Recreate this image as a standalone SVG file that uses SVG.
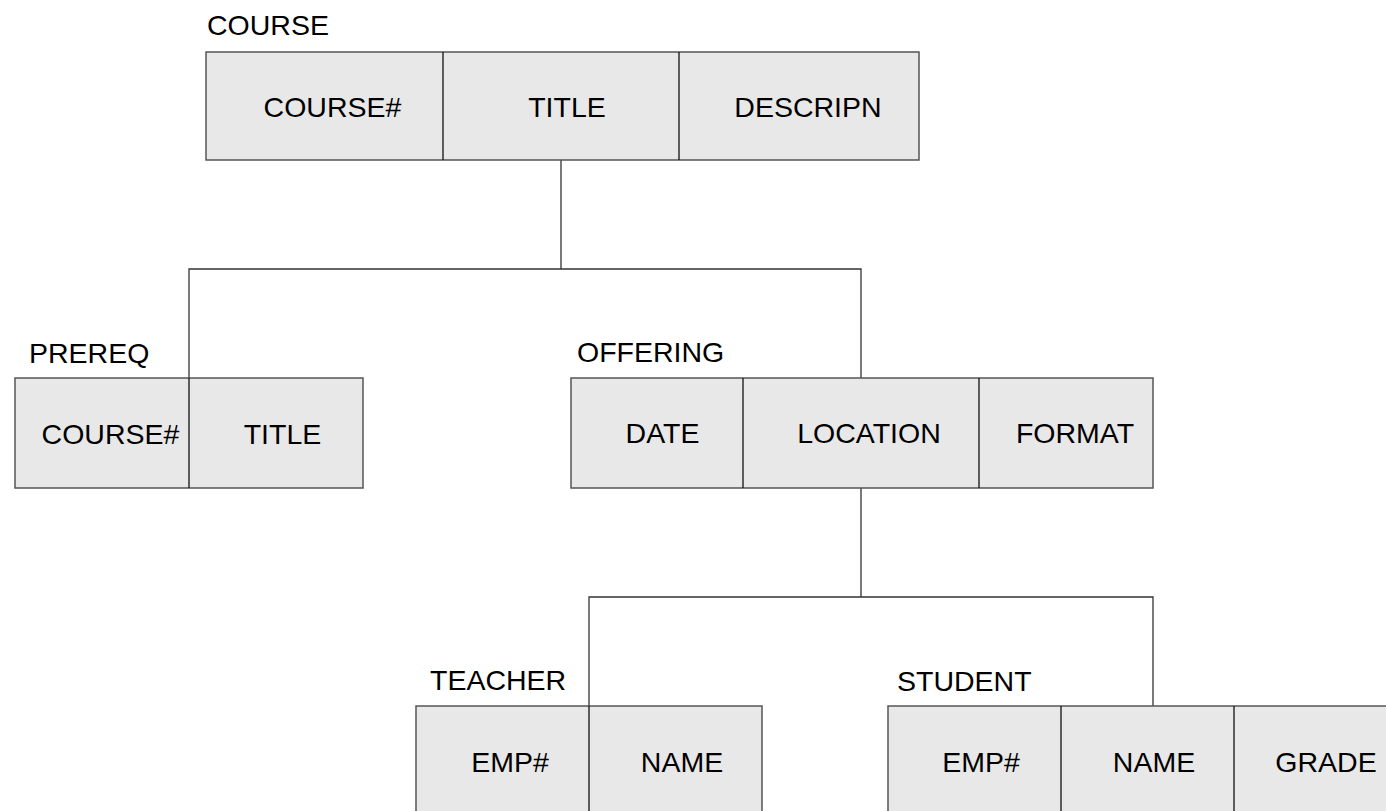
<svg xmlns="http://www.w3.org/2000/svg" width="1386" height="811" viewBox="0 0 1386 811">
<style>
.box{fill:#e8e8e8;stroke:#555;stroke-width:1.5}
.div{stroke:#111;stroke-width:1.3}
.t{font-family:"Liberation Sans",Arial,sans-serif;font-size:28.5px;fill:#000}
.c{text-anchor:middle}
.conn{fill:none;stroke:#333;stroke-width:1.3}
</style>
<rect width="1386" height="811" fill="#fff"/>
<g id="connectors">
<path class="conn" d="M561,160 V269 M189,378 V269 H861 V378 M861,488 V597 M589,706 V597 H1153 V706"/>
</g>
<g id="course">
<text class="t" x="207" y="35">COURSE</text>
<rect class="box" x="206" y="52" width="713" height="108"/>
<line class="div" x1="443" y1="52" x2="443" y2="160"/>
<line class="div" x1="679" y1="52" x2="679" y2="160"/>
<text class="t c" x="332.5" y="117">COURSE#</text>
<text class="t c" x="567" y="117">TITLE</text>
<text class="t c" x="808" y="117">DESCRIPN</text>
</g>
<g id="prereq">
<text class="t" x="29" y="363">PREREQ</text>
<rect class="box" x="15" y="378" width="348" height="110"/>
<line class="div" x1="189" y1="378" x2="189" y2="488"/>
<text class="t c" x="110.5" y="444">COURSE#</text>
<text class="t c" x="282.5" y="444">TITLE</text>
</g>
<g id="offering">
<text class="t" x="577" y="362">OFFERING</text>
<rect class="box" x="571" y="378" width="582" height="110"/>
<line class="div" x1="743" y1="378" x2="743" y2="488"/>
<line class="div" x1="979" y1="378" x2="979" y2="488"/>
<text class="t c" x="662.5" y="443">DATE</text>
<text class="t c" x="869" y="443">LOCATION</text>
<text class="t c" x="1075" y="443">FORMAT</text>
</g>
<g id="teacher">
<text class="t" x="430" y="690">TEACHER</text>
<rect class="box" x="416" y="706" width="346" height="120"/>
<line class="div" x1="589" y1="706" x2="589" y2="826"/>
<text class="t c" x="510" y="772">EMP#</text>
<text class="t c" x="682" y="772">NAME</text>
</g>
<g id="student">
<text class="t" x="897" y="691">STUDENT</text>
<rect class="box" x="888" y="706" width="519" height="120"/>
<line class="div" x1="1061" y1="706" x2="1061" y2="826"/>
<line class="div" x1="1234" y1="706" x2="1234" y2="826"/>
<text class="t c" x="981" y="772">EMP#</text>
<text class="t c" x="1154" y="772">NAME</text>
<text class="t c" x="1326" y="772">GRADE</text>
</g>
</svg>
